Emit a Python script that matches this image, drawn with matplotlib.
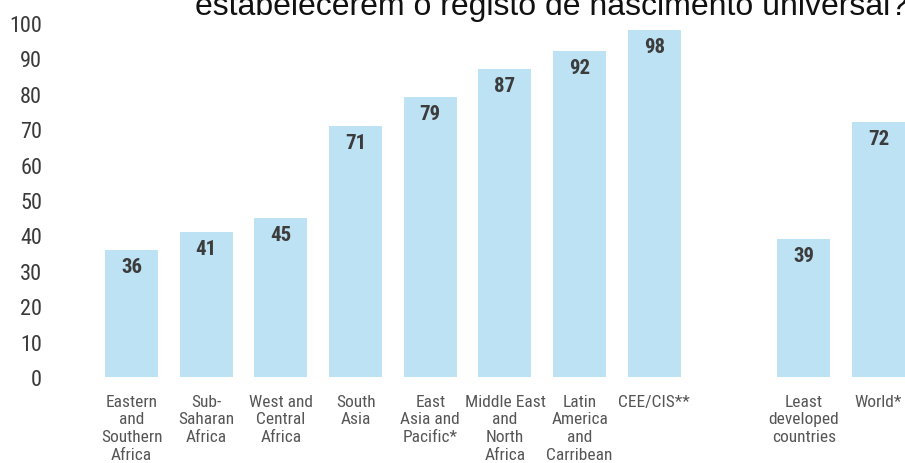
import matplotlib
matplotlib.use("Agg")
import matplotlib.pyplot as plt
from matplotlib import font_manager

# Data
regions = [
    "Eastern\nand\nSouthern\nAfrica",
    "Sub-\nSaharan\nAfrica",
    "West and\nCentral\nAfrica",
    "South\nAsia",
    "East\nAsia and\nPacific*",
    "Middle East\nand\nNorth\nAfrica",
    "Latin\nAmerica\nand\nCarribean",
    "CEE/CIS**",
]
region_values = [36, 41, 45, 71, 79, 87, 92, 98]
extra_labels = ["Least\ndeveloped\ncountries", "World*"]
extra_values = [39, 72]
y_ticks = [0, 10, 20, 30, 40, 50, 60, 70, 80, 90, 100]
title = "estabelecerem o registo de nascimento universal?"


def find_narrow(bold=False):
    # look for any condensed / narrow sans face that is installed
    best = None
    for f in font_manager.fontManager.ttflist:
        n = f.name.lower()
        narrowish = ("narrow" in n or "condensed" in n or
                     f.stretch in ("condensed", "semi-condensed", "extra-condensed"))
        if not narrowish or f.style != "normal":
            continue
        w = f.weight if isinstance(f.weight, int) else (700 if f.weight == "bold" else 400)
        is_bold = w >= 600
        if is_bold == bold:
            if best is None or "liberation" in n or "roboto" in n:
                best = f.fname
    return best


reg_path = find_narrow(False)
bold_path = find_narrow(True)
found = reg_path is not None


def fp(size, bold=False):
    path = bold_path if bold else reg_path
    if path:
        return font_manager.FontProperties(fname=path, size=size)
    return font_manager.FontProperties(family="DejaVu Sans", size=size,
                                       weight="bold" if bold else "normal")


W, H = 905, 464
fig = plt.figure(figsize=(W / 100, H / 100), dpi=100)

# axes placed in pixel terms
left_px, right_px, top_px, bottom_px = 95, 905, 24, 378
ax = fig.add_axes([left_px / W, 1 - bottom_px / H,
                   (right_px - left_px) / W, (bottom_px - top_px) / H])

labels = regions + extra_labels
values = region_values + extra_values
positions = list(range(len(regions))) + [len(regions) + 1 + i for i in range(len(extra_values))]

bar_color = "#bde2f4"
bars = ax.bar(positions, values, width=0.71, color=bar_color, edgecolor="none")

for b, v in zip(bars, values):
    ax.annotate(str(v), (b.get_x() + b.get_width() / 2, v), xytext=(0, -5),
                textcoords="offset points", ha="center", va="top",
                fontproperties=fp(15 if found else 13, bold=True), color="#3c3c3c")

unit = (right_px - left_px) / 10.845
x0 = -(131.5 - left_px) / unit
ax.set_xlim(x0, x0 + (right_px - left_px) / unit)
ax.set_ylim(0, 100)

ax.set_yticks(y_ticks)
ax.set_yticklabels([str(t) for t in y_ticks], color="#3a3a3a",
                   fontproperties=fp(16 if found else 14))
ax.tick_params(axis="y", length=0, pad=38)

ax.set_xticks(positions)
ax.set_xticklabels(labels, color="#555555", linespacing=1.22, va="top",
                   fontproperties=fp(12.5 if found else 10))
ax.tick_params(axis="x", length=0, pad=12)

for s in ax.spines.values():
    s.set_visible(False)

fig.text(552 / W, 1 - 15 / H, title, ha="center", va="baseline",
         fontsize=23, color="#111111", family="Liberation Sans")

fig.savefig("out.png", dpi=100)
